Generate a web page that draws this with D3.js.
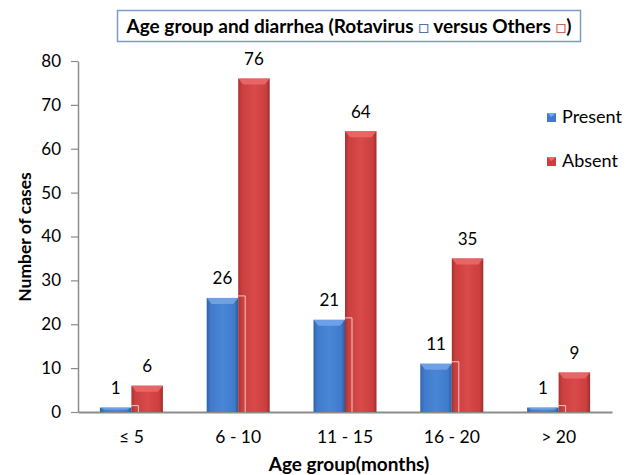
<!DOCTYPE html>
<html><head><meta charset="utf-8">
<script src="https://cdn.jsdelivr.net/npm/d3@7"></script>
<style>body{margin:0;background:#fff}svg{display:block}text{font-family:Lato,"Open Sans",sans-serif}</style>
</head><body>
<script>
const categories = ["\u2264 5", "6 - 10", "11 - 15", "16 - 20", "> 20"];
const present = [1, 26, 21, 11, 1];
const absent = [6, 76, 64, 35, 9];
const yTicks = [0, 10, 20, 30, 40, 50, 60, 70, 80];
const seriesNames = ["Present", "Absent"];

const W = 634, H = 475;
const svg = d3.select("body").append("svg").attr("width", W).attr("height", H);
const defs = svg.append("defs");
function grad(id, stops){
  const g = defs.append("linearGradient").attr("id", id).attr("x1",0).attr("x2",1).attr("y1",0).attr("y2",0);
  stops.forEach(s=>g.append("stop").attr("offset",s[0]).attr("stop-color",s[1]));
}
grad("gBlue", [[0,"#2f63a8"],[0.12,"#3f7acb"],[0.5,"#4a86d6"],[0.88,"#3f7acb"],[1,"#2c5c9c"]]);
grad("gRed", [[0,"#a83232"],[0.12,"#cc3f3f"],[0.5,"#d94a4a"],[0.88,"#cc3f3f"],[1,"#9e2e2e"]]);

const x = d3.scaleBand().domain(categories).range([78, 612]).paddingInner(0).paddingOuter(0);
const y = d3.scaleLinear().domain([0, 80]).range([412, 61]);
const barW = 31.5;

// Y axis
const yAxis = svg.append("g").attr("transform","translate(78,0)")
  .call(d3.axisLeft(y).tickValues(yTicks).tickSize(7).tickPadding(10).tickSizeOuter(0));
yAxis.select(".domain").attr("stroke","#8c8c8c").attr("stroke-width",1.5);
yAxis.selectAll(".tick line").attr("stroke","#8c8c8c").attr("stroke-width",1.2);
yAxis.selectAll(".tick text").attr("font-size",17).attr("fill","#000").style("font-family","Lato, sans-serif");

// X axis
const xAxis = svg.append("g").attr("transform","translate(0,412)")
  .call(d3.axisBottom(x).tickSize(0).tickPadding(19).tickSizeOuter(0));
xAxis.select(".domain").attr("stroke","#8c8c8c").attr("stroke-width",2);
xAxis.selectAll(".tick text").attr("font-size",17.5).attr("fill","#000").style("font-family","Lato, sans-serif");

function drawBar(g, x0, v, fillId, topColor){
  const top = y(v), bot = y(0), h = bot - top;
  g.append("rect").attr("x", x0).attr("y", top).attr("width", barW).attr("height", h).attr("fill", `url(#${fillId})`);
  const bev = Math.min(6, h/2);
  g.append("path").attr("d", `M${x0},${top}L${x0+barW},${top}L${x0+barW-5},${top+bev}L${x0+5},${top+bev}Z`).attr("fill", topColor).attr("opacity",0.85);
}

const groups = svg.append("g");
categories.forEach((c,i)=>{
  const cx = x(c) + x.bandwidth()/2;
  const g = groups.append("g");
  drawBar(g, cx - barW, present[i], "gBlue", "#74a6ea");
  drawBar(g, cx, absent[i], "gRed", "#ec6b6b");
  // faint outline artifact
  const bt = y(present[i]) - 2;
  g.append("path").attr("d", `M${cx},${bt}L${cx+7},${bt}L${cx+7},${y(0)}`)
    .attr("fill","none").attr("stroke","#f3c8c8").attr("stroke-width",1);
  g.append("text").attr("x", cx - barW/2).attr("y", y(present[i]) - 13.5).attr("text-anchor","middle").attr("font-size",17).text(present[i]);
  g.append("text").attr("x", cx + barW/2).attr("y", y(absent[i]) - 13.5).attr("text-anchor","middle").attr("font-size",17).text(absent[i]);
});

// Legend
const legColors = [["#3f7acb","#74a6ea"],["#cc3f3f","#ec6b6b"]];
seriesNames.forEach((n,i)=>{
  const ly = 113 + i*44;
  svg.append("rect").attr("x",547).attr("y",ly).attr("width",9).attr("height",9).attr("fill",legColors[i][0]);
  svg.append("path").attr("d",`M547,${ly}L556,${ly}L551.5,${ly+4}Z`).attr("fill",legColors[i][1]);
  svg.append("text").attr("x",562).attr("y",ly+9.5).attr("font-size",18).text(n);
});

// Title box
svg.append("rect").attr("x",117.5).attr("y",10.5).attr("width",463).attr("height",31).attr("fill","#fff").attr("stroke","#7a9cc8").attr("stroke-width",1.5);
const t = svg.append("text").attr("x",349).attr("y",32.5).attr("text-anchor","middle").attr("font-size",19).attr("font-weight","bold");
t.append("tspan").text("Age group and diarrhea (Rotavirus ");
t.append("tspan").attr("fill","#4f6fa8").attr("font-weight","normal").attr("font-size",18).text("\u25A1");
t.append("tspan").text("  versus Others ");
t.append("tspan").attr("fill","#d06060").attr("font-weight","normal").attr("font-size",18).text("\u25A1");
t.append("tspan").text(")");

// Axis titles
svg.append("text").attr("transform","translate(31,237) rotate(-90)").attr("text-anchor","middle").attr("font-size",17.5).attr("font-weight","bold").text("Number of cases");
svg.append("text").attr("x",349).attr("y",471).attr("text-anchor","middle").attr("font-size",19).attr("font-weight","bold").text("Age group(months)");
</script>
</body></html>
